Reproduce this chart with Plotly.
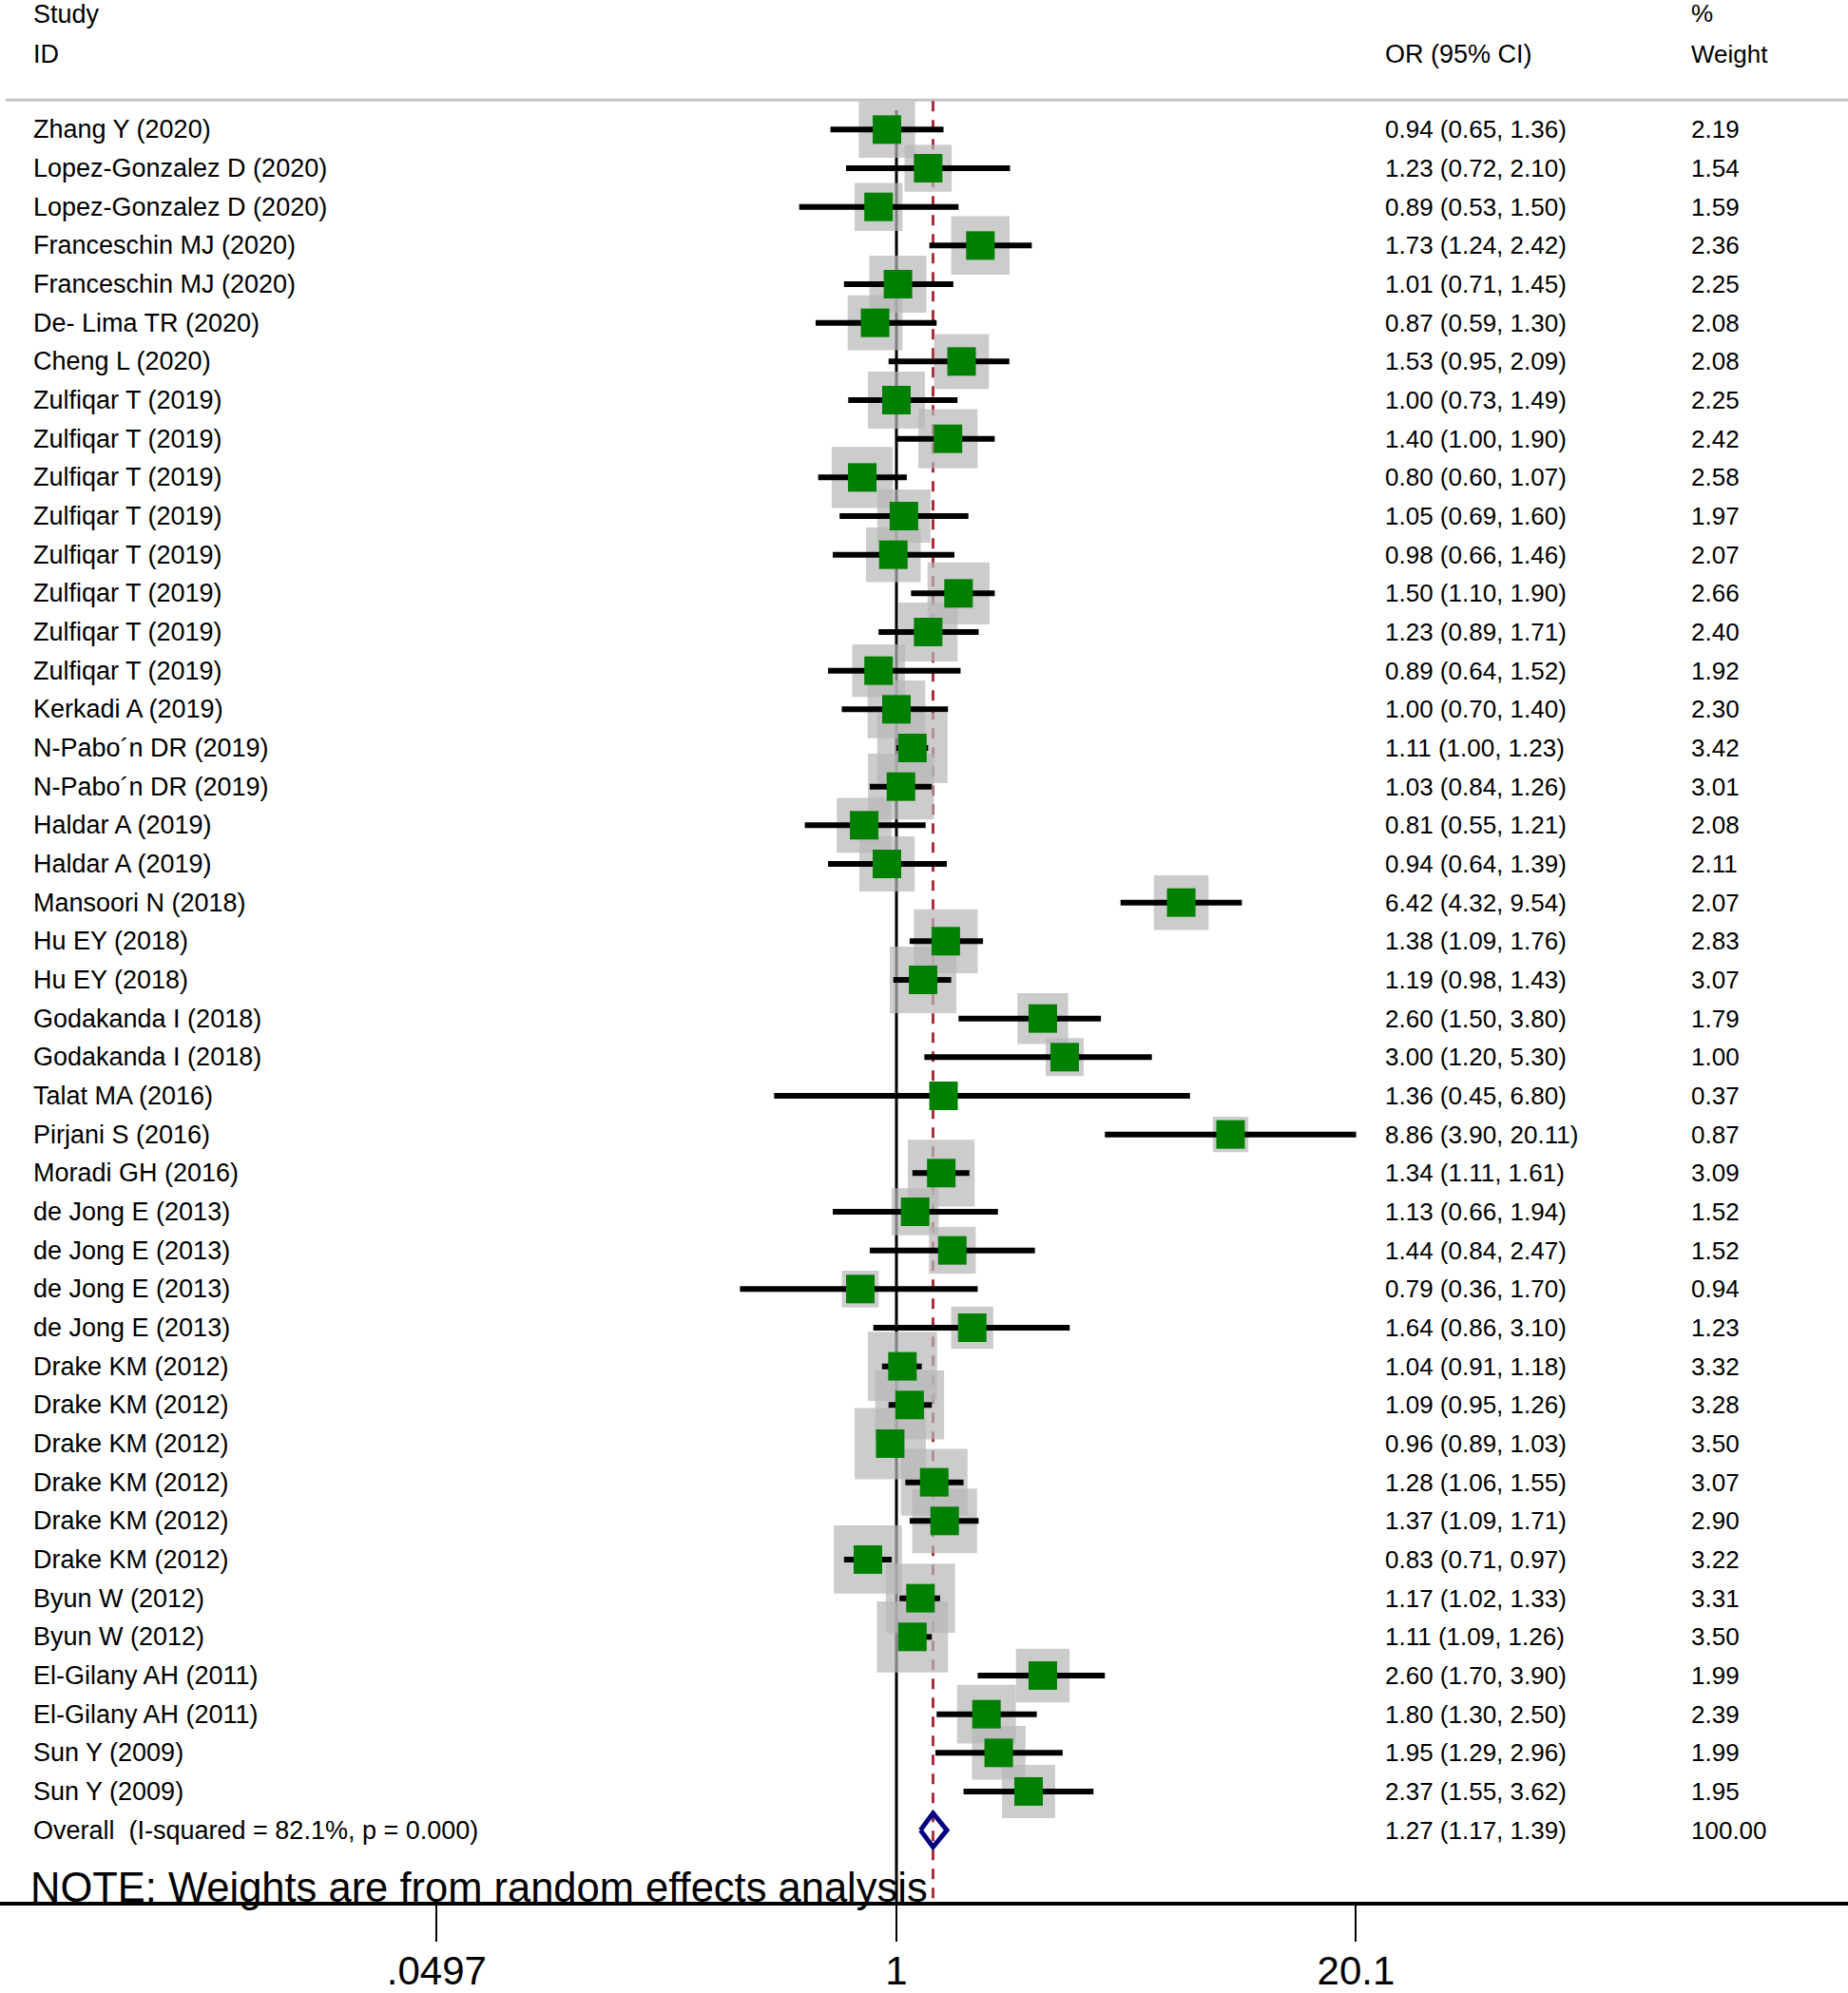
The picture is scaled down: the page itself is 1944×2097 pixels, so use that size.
import math
import plotly.graph_objects as go

# ---------------- data ----------------
studies = [
    "Zhang Y (2020)", "Lopez-Gonzalez D (2020)", "Lopez-Gonzalez D (2020)",
    "Franceschin MJ (2020)", "Franceschin MJ (2020)", "De- Lima TR (2020)",
    "Cheng L (2020)", "Zulfiqar T (2019)", "Zulfiqar T (2019)", "Zulfiqar T (2019)",
    "Zulfiqar T (2019)", "Zulfiqar T (2019)", "Zulfiqar T (2019)", "Zulfiqar T (2019)",
    "Zulfiqar T (2019)", "Kerkadi A (2019)", "N-Pabo\u00b4n DR (2019)", "N-Pabo\u00b4n DR (2019)",
    "Haldar A (2019)", "Haldar A (2019)", "Mansoori N (2018)", "Hu EY (2018)",
    "Hu EY (2018)", "Godakanda I (2018)", "Godakanda I (2018)", "Talat MA (2016)",
    "Pirjani S (2016)", "Moradi GH (2016)", "de Jong E (2013)", "de Jong E (2013)",
    "de Jong E (2013)", "de Jong E (2013)", "Drake KM (2012)", "Drake KM (2012)",
    "Drake KM (2012)", "Drake KM (2012)", "Drake KM (2012)", "Drake KM (2012)",
    "Byun W (2012)", "Byun W (2012)", "El-Gilany AH (2011)", "El-Gilany AH (2011)",
    "Sun Y (2009)", "Sun Y (2009)",
]
odds_ratio = [0.94, 1.23, 0.89, 1.73, 1.01, 0.87, 1.53, 1.00, 1.40, 0.80, 1.05, 0.98,
              1.50, 1.23, 0.89, 1.00, 1.11, 1.03, 0.81, 0.94, 6.42, 1.38, 1.19, 2.60,
              3.00, 1.36, 8.86, 1.34, 1.13, 1.44, 0.79, 1.64, 1.04, 1.09, 0.96, 1.28,
              1.37, 0.83, 1.17, 1.11, 2.60, 1.80, 1.95, 2.37]
ci_low = [0.65, 0.72, 0.53, 1.24, 0.71, 0.59, 0.95, 0.73, 1.00, 0.60, 0.69, 0.66,
          1.10, 0.89, 0.64, 0.70, 1.00, 0.84, 0.55, 0.64, 4.32, 1.09, 0.98, 1.50,
          1.20, 0.45, 3.90, 1.11, 0.66, 0.84, 0.36, 0.86, 0.91, 0.95, 0.89, 1.06,
          1.09, 0.71, 1.02, 1.09, 1.70, 1.30, 1.29, 1.55]
ci_high = [1.36, 2.10, 1.50, 2.42, 1.45, 1.30, 2.09, 1.49, 1.90, 1.07, 1.60, 1.46,
           1.90, 1.71, 1.52, 1.40, 1.23, 1.26, 1.21, 1.39, 9.54, 1.76, 1.43, 3.80,
           5.30, 6.80, 20.11, 1.61, 1.94, 2.47, 1.70, 3.10, 1.18, 1.26, 1.03, 1.55,
           1.71, 0.97, 1.33, 1.26, 3.90, 2.50, 2.96, 3.62]
weights = [2.19, 1.54, 1.59, 2.36, 2.25, 2.08, 2.08, 2.25, 2.42, 2.58, 1.97, 2.07,
           2.66, 2.40, 1.92, 2.30, 3.42, 3.01, 2.08, 2.11, 2.07, 2.83, 3.07, 1.79,
           1.00, 0.37, 0.87, 3.09, 1.52, 1.52, 0.94, 1.23, 3.32, 3.28, 3.50, 3.07,
           2.90, 3.22, 3.31, 3.50, 1.99, 2.39, 1.99, 1.95]
overall_label = "Overall  (I-squared = 82.1%, p = 0.000)"
overall_or = 1.27
overall_low = 1.17
overall_high = 1.39
overall_weight = "100.00"
tick_values = [0.0497, 1, 20.1]
tick_labels = [".0497", "1", "20.1"]
note_text = "NOTE: Weights are from random effects analysis"

# ---------------- layout constants ----------------
W, H = 1944, 2097
PX_ONE = 943.0          # pixel of OR = 1
PX_PER_DEC = 371.0      # pixels per decade
ROW0, ROWH = 137.3, 40.95
BOTTOM_MARGIN = 82
PLOT_H = H - BOTTOM_MARGIN

def row_at(px):
    return (px - ROW0) / ROWH

xrange = [(0 - PX_ONE) / PX_PER_DEC, (W - PX_ONE) / PX_PER_DEC]
yrange = [row_at(PLOT_H), row_at(0)]

FONT = "Liberation Sans, Arial, sans-serif"
n = len(studies)
rows = list(range(n))
overall_row = n

fig = go.Figure()

# null line at OR = 1
fig.add_trace(go.Scatter(x=[1, 1], y=[-0.5, yrange[0]], mode="lines",
                         line=dict(color="black", width=3), hoverinfo="skip"))
# overall estimate dashed line
fig.add_trace(go.Scatter(x=[overall_or, overall_or], y=[row_at(107), yrange[0]], mode="lines",
                         line=dict(color="#A8303C", width=3, dash="11px,9px"), hoverinfo="skip"))

# grey weight boxes
fig.add_trace(go.Scatter(x=odds_ratio, y=rows, mode="markers",
                         marker=dict(symbol="square", color="#B6B6B6",
                                     size=[40 * math.sqrt(w) for w in weights],
                                     line=dict(width=0)),
                         hoverinfo="skip"))

# CI lines
cx, cy = [], []
for lo, hi, r in zip(ci_low, ci_high, rows):
    cx += [lo, hi, None]
    cy += [r, r, None]
fig.add_trace(go.Scatter(x=cx, y=cy, mode="lines", line=dict(color="black", width=6),
                         hoverinfo="skip"))

# point estimates
fig.add_trace(go.Scatter(x=odds_ratio, y=rows, mode="markers",
                         marker=dict(symbol="square", color="#008000", size=30,
                                     line=dict(width=0)),
                         hoverinfo="skip"))

# overall diamond
dh = 0.44
fig.add_trace(go.Scatter(
    x=[overall_low, overall_or, overall_high, overall_or, overall_low],
    y=[overall_row, overall_row - dh, overall_row, overall_row + dh, overall_row],
    mode="lines", line=dict(color="#000080", width=5), hoverinfo="skip"))

annotations = []

def add_text(xpx, row, text, size=26):
    annotations.append(dict(x=xpx / W, xref="paper", y=row, yref="y", text=text,
                            showarrow=False, xanchor="left", yanchor="middle",
                            font=dict(family=FONT, size=size, color="black")))

# headers
add_text(33, row_at(15), "Study", 27)
add_text(33, row_at(57), "ID", 27)
add_text(1455, row_at(57), "OR (95% CI)", 27)
add_text(1777, row_at(14), "%", 26)
add_text(1777, row_at(57), "Weight", 26)

for r, s, o, lo, hi, w in zip(rows, studies, odds_ratio, ci_low, ci_high, weights):
    add_text(33, r, s, 27)
    add_text(1455, r, f"{o:.2f} ({lo:.2f}, {hi:.2f})", 26)
    add_text(1777, r, f"{w:.2f}", 26)

add_text(33, overall_row, overall_label, 27)
add_text(1455, overall_row, f"{overall_or:.2f} ({overall_low:.2f}, {overall_high:.2f})", 26)
add_text(1777, overall_row, overall_weight, 26)

add_text(30, row_at(2000), note_text, 43.5)

fig.update_layout(
    width=W, height=H,
    margin=dict(l=0, r=0, t=0, b=BOTTOM_MARGIN, pad=0),
    paper_bgcolor="white", plot_bgcolor="white",
    showlegend=False,
    annotations=annotations,
    shapes=[dict(type="line", xref="paper", x0=0.003, x1=1.0, yref="y",
                 y0=row_at(106), y1=row_at(106), line=dict(color="#C4C4C4", width=3),
                 layer="below")],
    xaxis=dict(type="log", range=xrange, tickvals=tick_values, ticktext=tick_labels,
               ticks="outside", ticklen=38, tickwidth=2, tickcolor="black",
               ticklabelstandoff=-5,
               showline=True, linewidth=4, linecolor="black", showgrid=False,
               zeroline=False, tickfont=dict(family=FONT, size=42, color="black"),
               fixedrange=True),
    yaxis=dict(range=yrange, visible=False, showgrid=False, zeroline=False,
               fixedrange=True),
)

fig.write_html("out.html", config={"displayModeBar": False},
               post_script="document.body.style.margin='0px';document.body.style.overflow='hidden';")
